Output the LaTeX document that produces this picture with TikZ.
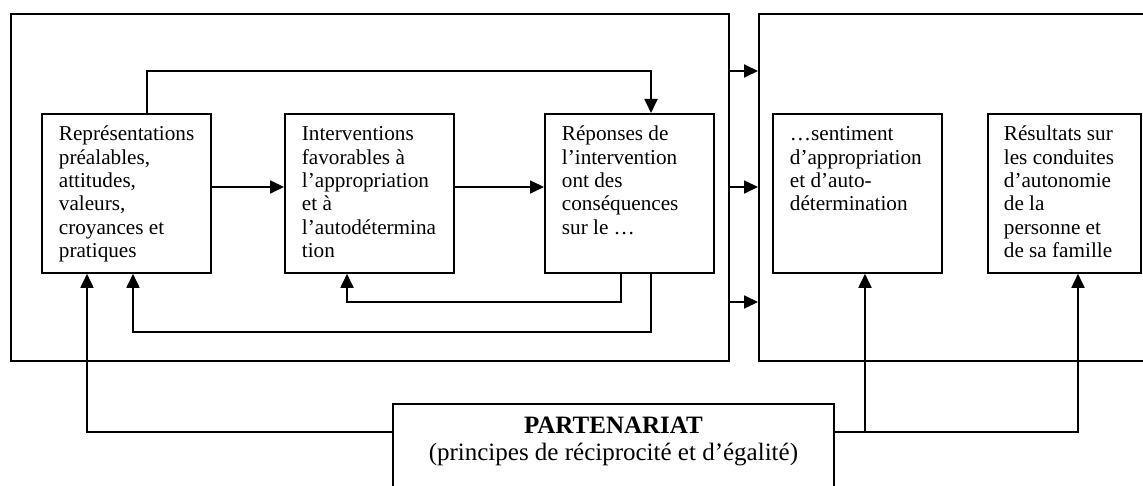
\documentclass[tikz,border=0pt]{standalone}
\usepackage{fontspec}
\setmainfont{Liberation Serif}
\usetikzlibrary{arrows.meta,calc}

% top-aligned text block of a step box
\newcommand\celltext[2]{\parbox[t][159pt][t]{#1}{\raggedright\rule{0pt}{27pt}#2}}

\begin{document}
\begin{tikzpicture}[x=1pt,y=-1pt,
  frame/.style={draw, line width=1.8pt, inner sep=0pt, anchor=north west},
  stepbox/.style={draw, line width=1.8pt, inner xsep=17pt, inner ysep=0pt,
    anchor=north west, font=\fontsize{21.2}{23.3}\selectfont},
  link/.style={line width=1.8pt},
  arr/.style={link, -{Triangle[length=14pt,width=13pt]}}]

\useasboundingbox (0,0) rectangle (1143,486);
\clip (0,0) rectangle (1143,486);
\fill[white] (0,0) rectangle (1143,486);

% two enclosing frames
\node[frame, minimum width=718pt, minimum height=347pt] (outL) at (10,13) {};
\node[frame, minimum width=420pt, minimum height=347pt] (outR) at (758,13) {};

% step boxes
\node[stepbox] (b1) at (41,113) {\celltext{135pt}{Représentations\\préalables,\\attitudes,\\valeurs,\\croyances et\\pratiques}};
\node[stepbox] (b2) at (284,113) {\celltext{135pt}{Interventions\\favorables à\\l’appropriation\\et à\\l’autodétermina\\tion}};
\node[stepbox] (b3) at (544,113) {\celltext{135pt}{Réponses de\\l’intervention\\ont des\\conséquences\\sur le …}};
\node[stepbox] (b4) at (772,113) {\celltext{135pt}{…sentiment\\d’appropriation\\et d’auto-\\détermination}};
\node[stepbox, inner xsep=16pt] (b5) at (987,113) {\celltext{121pt}{Résultats sur\\les conduites\\d’autonomie\\de la\\personne et\\de sa famille}};

% partnership box
\node[frame, inner sep=0pt] (part) at (392,403) {\parbox[t][100pt][t]{441pt}{\centering
  \fontsize{25}{27}\selectfont\rule{0pt}{30pt}\textbf{PARTENARIAT}\\
  \fontsize{25}{27}\selectfont (principes de réciprocité et d’égalité)}};

% connector levels
\coordinate (lvTop) at (0,71);
\coordinate (lvMid) at (0,187);
\coordinate (lvFb1) at (0,302);
\coordinate (lvFb2) at (0,332);
\coordinate (lvPart) at (0,432);

% connector end points on the boxes
\coordinate (out1)  at ($(b1.north west)+(106,0)$);
\coordinate (in3)   at ($(b3.north west)+(107,0)$);
\coordinate (out3a) at ($(b3.south west)+(77,0)$);
\coordinate (out3b) at ($(b3.south west)+(107,0)$);
\coordinate (in2)   at ($(b2.south west)+(63,0)$);
\coordinate (in1a)  at ($(b1.south west)+(46,0)$);
\coordinate (in1b)  at ($(b1.south west)+(92,0)$);
\coordinate (in4)   at ($(b4.south west)+(93,0)$);
\coordinate (in5)   at ($(b5.south west)+(91,0)$);

% main sequence
\draw[arr] (b1.east |- lvMid) -- (b2.west |- lvMid);
\draw[arr] (b2.east |- lvMid) -- (b3.west |- lvMid);
\draw[arr] (out1) -- (out1 |- lvTop) -| (in3);

% feedback loops
\draw[arr] (out3a) -- (out3a |- lvFb1) -| (in2);
\draw[arr] (out3b) -- (out3b |- lvFb2) -| (in1b);

% frame to frame
\foreach \lv in {lvTop,lvMid,lvFb1}
  \draw[arr] (outL.east |- \lv) -- (outR.west |- \lv);

% partnership links
\draw[arr] (part.west |- lvPart) -| (in1a);
\draw[arr] (part.east |- lvPart) -| (in5);
\draw[arr] (in4 |- lvPart) -- (in4);

\end{tikzpicture}
\end{document}
